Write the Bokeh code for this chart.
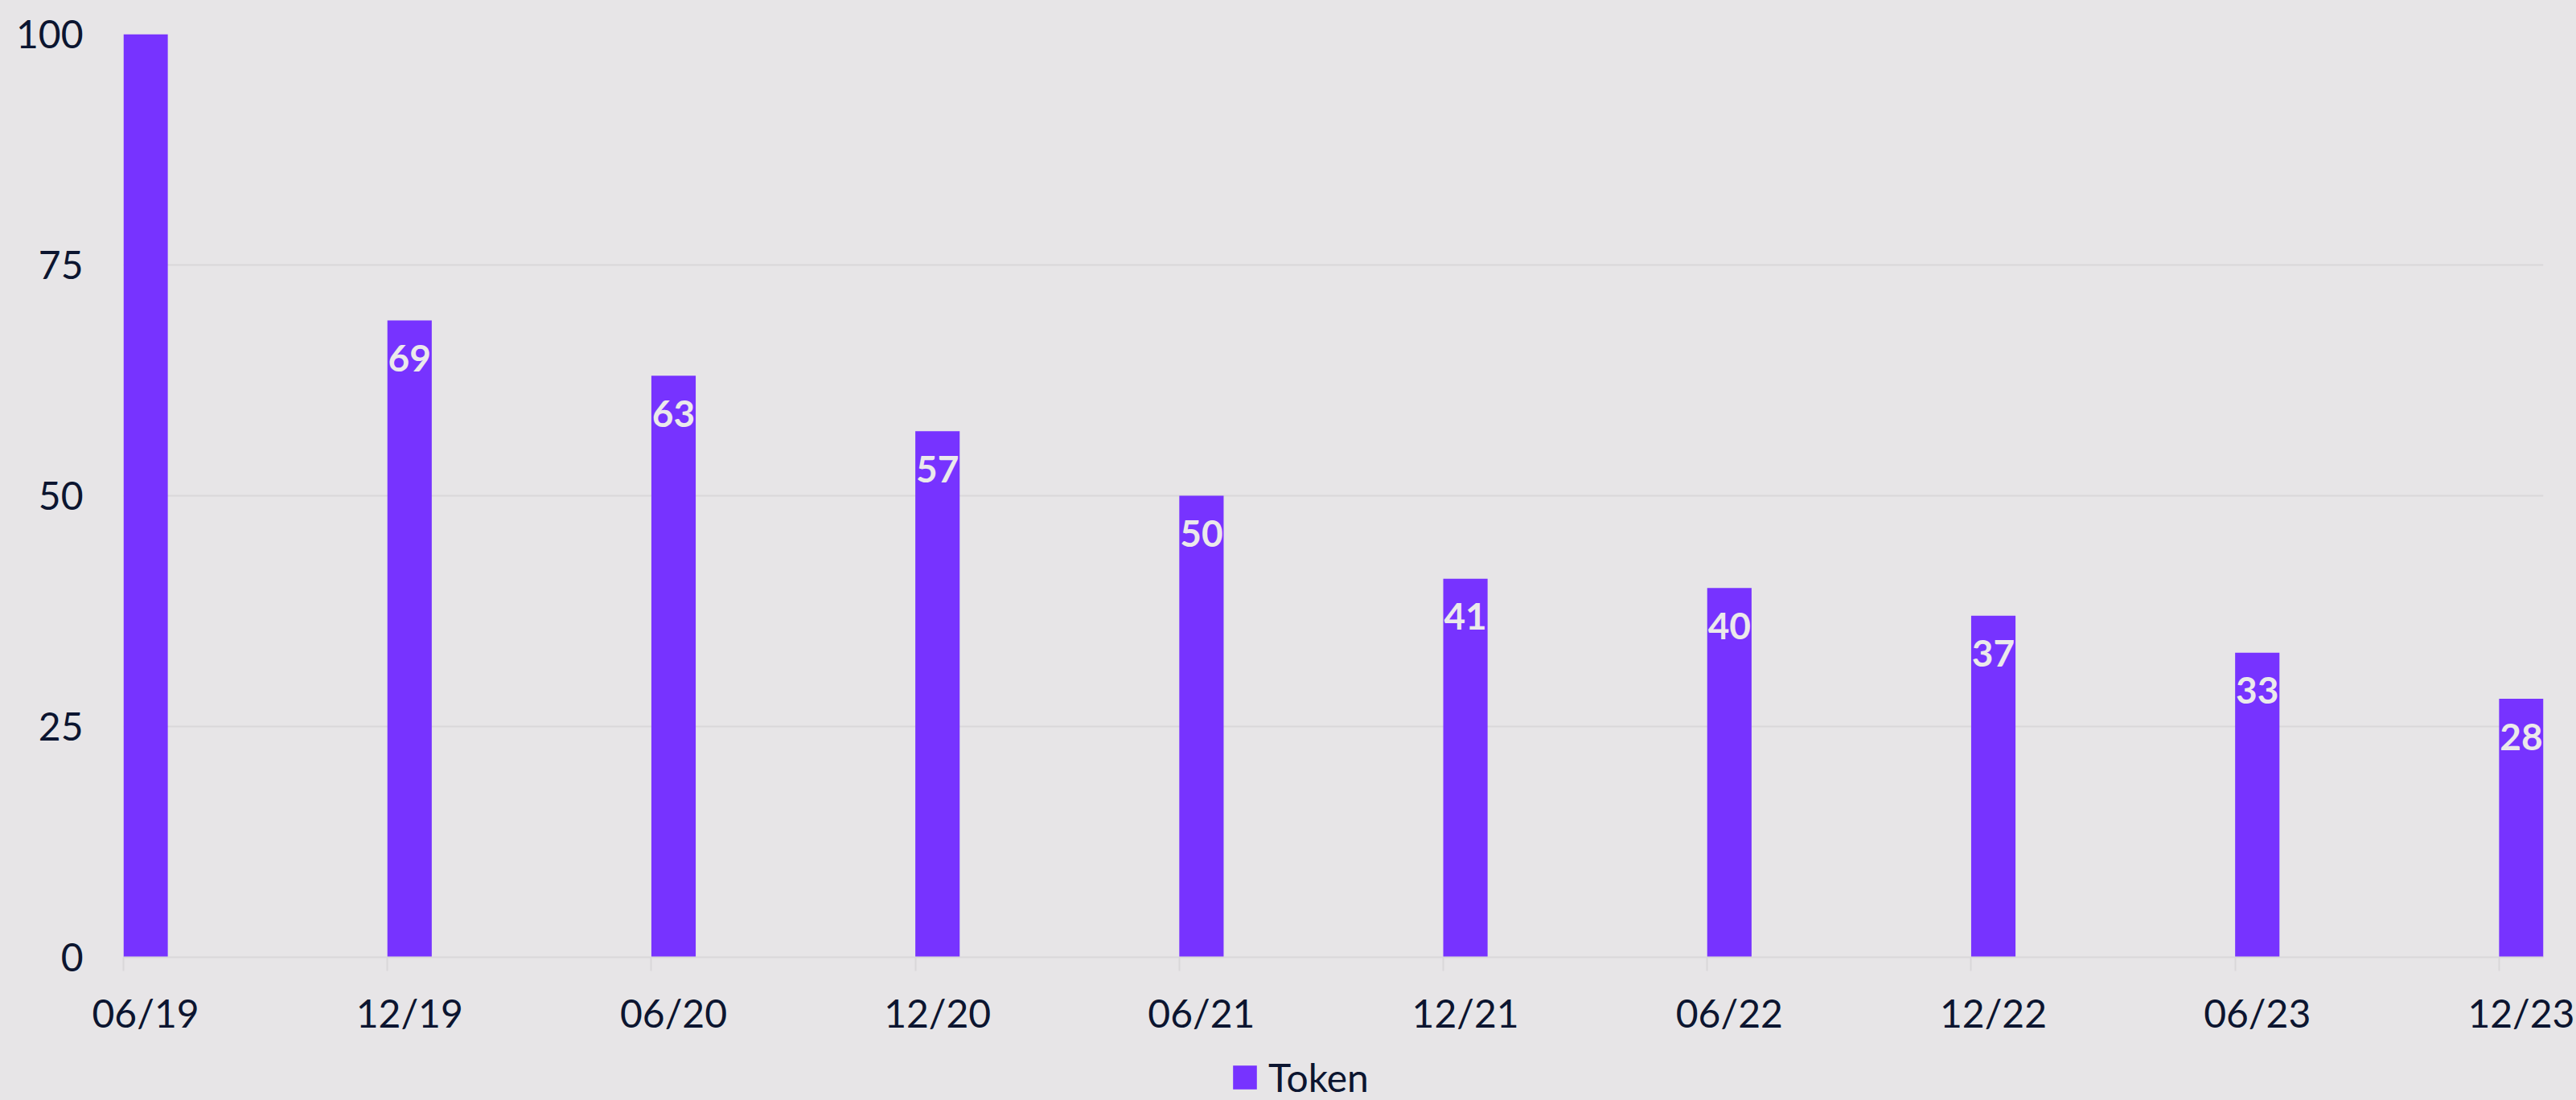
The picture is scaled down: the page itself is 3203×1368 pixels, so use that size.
from bokeh.plotting import figure
from bokeh.layouts import column
from bokeh.models import Range1d, FixedTicker, Legend, LegendItem, ColumnDataSource
from bokeh.core.properties import value
from bokeh.embed import file_html
from bokeh.resources import INLINE

# ---- data ----
periods = ["06/19", "12/19", "06/20", "12/20", "06/21", "12/21", "06/22", "12/22", "06/23", "12/23"]
token = [100, 69, 63, 57, 50, 41, 40, 37, 33, 28]
y_ticks = [0, 25, 50, 75, 100]
series_name = "Token"

# ---- styles ----
BG = "#e7e5e7"
BAR = "#7733ff"
GRID = "#d9d7d9"
TXT = "#0c1530"
LBL = "#ebe9eb"
FONT = "Lato"
FS = "48px"
BAR_W = 0.168
W = 3203
H_MAIN = 1300
H_LEG = 68
FRAME_LEFT = 153

idx = list(range(len(periods)))
centers = [i + BAR_W / 2 for i in idx]
src = ColumnDataSource(dict(
    left=[i for i in idx],
    right=[i + BAR_W for i in idx],
    bottom=[0] * len(idx),
    top=token,
))
# data labels (the top bar's label is not visible in the reference)
lab_idx = [i for i in idx if token[i] < max(token)]
lab_src = ColumnDataSource(dict(
    x=[centers[i] for i in lab_idx],
    y=[token[i] for i in lab_idx],
    t=[str(token[i]) for i in lab_idx],
))

p = figure(width=W, height=H_MAIN, output_backend="svg", toolbar_location=None,
           x_range=Range1d(0, len(periods) - 1 + BAR_W), y_range=Range1d(0, 100),
           min_border_left=FRAME_LEFT, min_border_right=41, min_border_top=42, min_border_bottom=110)
p.background_fill_alpha = 0
p.border_fill_color = BG
p.outline_line_color = None

bars = p.quad(left="left", right="right", bottom="bottom", top="top", source=src,
              fill_color=BAR, line_color=None)

p.text(x="x", y="y", text="t", source=lab_src, text_align="center", text_baseline="middle",
       y_offset=47, text_color=LBL, text_font=value(FONT), text_font_style="bold",
       text_font_size="46px")

# x axis: labels centred under bars, tick marks (minor) at each period start
p.xaxis.ticker = FixedTicker(ticks=centers, minor_ticks=idx)
p.xaxis.major_label_overrides = {centers[i]: periods[i] for i in idx}
p.xaxis.axis_line_color = GRID
p.xaxis.axis_line_width = 2
p.xaxis.major_tick_line_color = None
p.xaxis.major_tick_in = 0
p.xaxis.major_tick_out = 17
p.xaxis.minor_tick_line_color = GRID
p.xaxis.minor_tick_line_width = 2
p.xaxis.minor_tick_in = 0
p.xaxis.minor_tick_out = 17
p.xaxis.major_label_standoff = 23
p.xaxis.major_label_text_font = FONT
p.xaxis.major_label_text_font_size = FS
p.xaxis.major_label_text_color = TXT

# y axis
p.yaxis.ticker = FixedTicker(ticks=y_ticks)
p.yaxis.axis_line_color = None
p.yaxis.major_tick_line_color = None
p.yaxis.minor_tick_line_color = None
p.yaxis.major_tick_in = 0
p.yaxis.major_tick_out = 0
p.yaxis.major_label_standoff = 50
p.yaxis.major_label_text_font = FONT
p.yaxis.major_label_text_font_size = FS
p.yaxis.major_label_text_color = TXT

p.xgrid.grid_line_color = None
p.ygrid.grid_line_color = GRID
p.ygrid.grid_line_width = 2

# legend strip below the chart (same series drawn outside its visible range)
pl = figure(width=W, height=H_LEG, output_backend="svg", toolbar_location=None,
            x_range=Range1d(0, 1), y_range=Range1d(-2, -1),
            x_axis_location=None, y_axis_location=None,
            min_border_left=0, min_border_right=0, min_border_top=0, min_border_bottom=0)
pl.background_fill_alpha = 0
pl.border_fill_color = BG
pl.outline_line_color = None
pl.grid.grid_line_color = None
leg_r = pl.quad(left="left", right="right", bottom="bottom", top="top", source=src,
                fill_color=BAR, line_color=None)
legend = Legend(items=[LegendItem(label=series_name, renderers=[leg_r])],
                location=(1529 - FRAME_LEFT, 0), orientation="horizontal",
                glyph_width=37, glyph_height=37, label_standoff=11,
                label_text_font=FONT, label_text_font_size=FS, label_text_color=TXT,
                border_line_color=None, background_fill_alpha=0, padding=0, margin=0,
                label_height=37)
pl.add_layout(legend)

layout = column(p, pl, spacing=0, styles={"background-color": BG})
open("out.html", "w").write(file_html(layout, INLINE))
